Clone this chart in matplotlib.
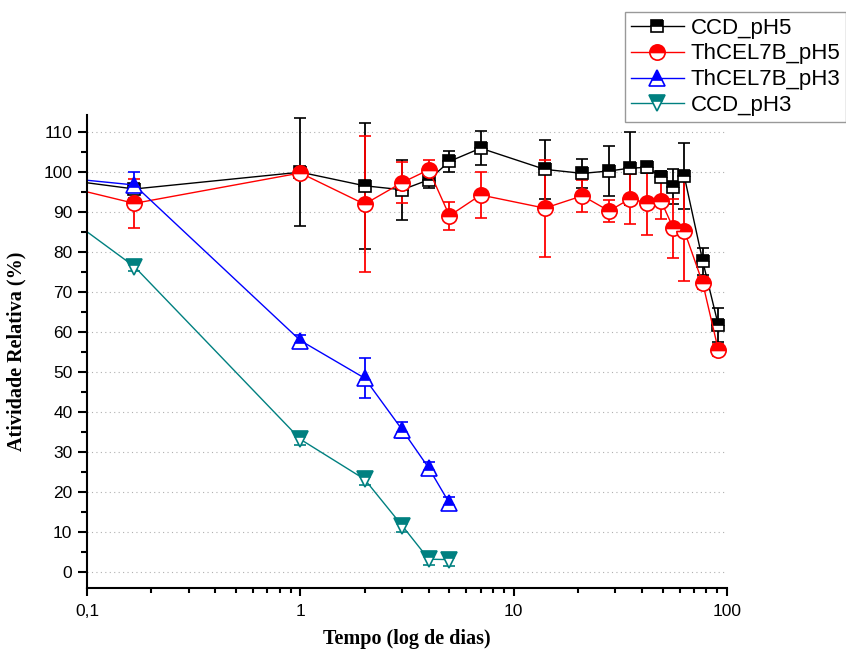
import numpy as np
import matplotlib
matplotlib.use('Agg')
import matplotlib.pyplot as plt
from matplotlib.ticker import FixedLocator, FuncFormatter, MultipleLocator, LogLocator, NullFormatter

# tempo em dias (primeiro ponto = 1 h, fica fora do eixo)
days_ph5 = [1/24, 1/6, 1, 2, 3, 4, 5, 7, 14, 21, 28, 35, 42, 49, 56, 63, 77, 91]
days_ph3 = [1/24, 1/6, 1, 2, 3, 4, 5]

ccd_ph5 = [100, 95.8, 100.0, 96.6, 95.6, 98.1, 102.7, 106.0, 100.7, 99.7, 100.3, 101.0, 101.2, 98.9, 96.4, 99.1, 77.7, 61.8]
ccd_ph5_err = [0, 1.0, 13.5, 15.8, 7.5, 2.0, 2.6, 4.3, 7.4, 3.7, 6.2, 9.1, 1.4, 1.3, 4.4, 8.2, 3.3, 4.2]

thcel_ph5 = [100, 92.2, 99.8, 92.0, 97.4, 100.6, 89.1, 94.3, 91.0, 94.1, 90.3, 93.3, 92.4, 92.9, 86.0, 85.4, 72.2, 55.6]
thcel_ph5_err = [0, 6.2, 1.0, 17.0, 5.2, 2.5, 3.5, 5.8, 12.1, 4.0, 2.8, 6.2, 8.1, 4.6, 7.4, 12.7, 1.5, 1.5]

thcel_ph3 = [100, 96.8, 57.9, 48.5, 35.6, 26.0, 17.2]
thcel_ph3_err = [0, 3.2, 1.5, 5.0, 2.0, 1.5, 1.5]

ccd_ph3 = [100, 76.4, 33.2, 23.2, 11.6, 3.2, 3.1]
ccd_ph3_err = [0, 1.2, 1.5, 1.5, 1.5, 1.5, 1.5]

labels = ["CCD_pH5", "ThCEL7B_pH5", "ThCEL7B_pH3", "CCD_pH3"]
series = [
    (days_ph5, ccd_ph5, ccd_ph5_err, "black", "s", 9),
    (days_ph5, thcel_ph5, thcel_ph5_err, "#FF0000", "o", 11),
    (days_ph3, thcel_ph3, thcel_ph3_err, "#0000FF", "^", 12),
    (days_ph3, ccd_ph3, ccd_ph3_err, "#008080", "v", 12),
]

fig = plt.figure(figsize=(8.46, 6.51), dpi=100)
ax = fig.add_axes([87/846, 1 - 588/651, (727 - 87)/846, (588 - 115)/651])

handles = []
for x, y, err, col, mk, ms in series:
    cont = ax.errorbar(x, y, yerr=err, color=col, lw=1.0, marker=mk, markersize=ms,
                       fillstyle='top', markerfacecolor=col, markerfacecoloralt='white',
                       markeredgecolor=col, markeredgewidth=1.2,
                       elinewidth=1.3, capsize=4, capthick=1.3)
    handles.append(cont[0])

ax.set_xscale('log')
ax.set_xlim(0.1, 100)
ax.set_ylim(-4, 114.3)

ax.yaxis.set_major_locator(MultipleLocator(10))
ax.yaxis.set_minor_locator(MultipleLocator(5))
ax.set_yticks(np.arange(0, 111, 10))
ax.xaxis.set_major_locator(FixedLocator([0.1, 1, 10, 100]))
ax.xaxis.set_minor_locator(LogLocator(base=10, subs=np.arange(2, 10)))
ax.xaxis.set_minor_formatter(NullFormatter())
ax.xaxis.set_major_formatter(FuncFormatter(lambda v, p: ('%g' % v).replace('.', ',')))

ax.grid(axis='y', which='major', linestyle=(0, (1, 3)), color='#b0b0b0', lw=0.8)
ax.set_axisbelow(True)

for s in ['top', 'right']:
    ax.spines[s].set_visible(False)
for s in ['left', 'bottom']:
    ax.spines[s].set_linewidth(1.5)

ax.tick_params(axis='y', which='major', direction='out', length=6.5, width=1.5, pad=4)
ax.tick_params(axis='y', which='minor', direction='out', length=4, width=1.5)
ax.tick_params(axis='x', which='major', direction='out', length=5.5, width=1.5, pad=6)
ax.tick_params(axis='x', which='minor', direction='out', length=3.5, width=1.5)
for lab in ax.get_xticklabels() + ax.get_yticklabels():
    lab.set_fontfamily('Liberation Sans')
    lab.set_fontsize(12.5)

ax.set_xlabel('Tempo (log de dias)', family='Liberation Serif', fontweight='bold', fontsize=14.5, labelpad=7)
ax.set_ylabel('Atividade Relativa (%)', family='Liberation Serif', fontweight='bold', fontsize=14.5, labelpad=12)

leg = fig.legend(handles, labels, loc='upper left', bbox_to_anchor=(625/846, 1 - 12/651),
                 borderaxespad=0, frameon=True, fancybox=False, edgecolor='#808080',
                 prop={'family': 'Liberation Sans', 'size': 16}, labelspacing=0.22,
                 handlelength=2.4, handletextpad=0.3, borderpad=0.25)
leg.get_frame().set_linewidth(1.0)

fig.savefig('out.png', dpi=100)
